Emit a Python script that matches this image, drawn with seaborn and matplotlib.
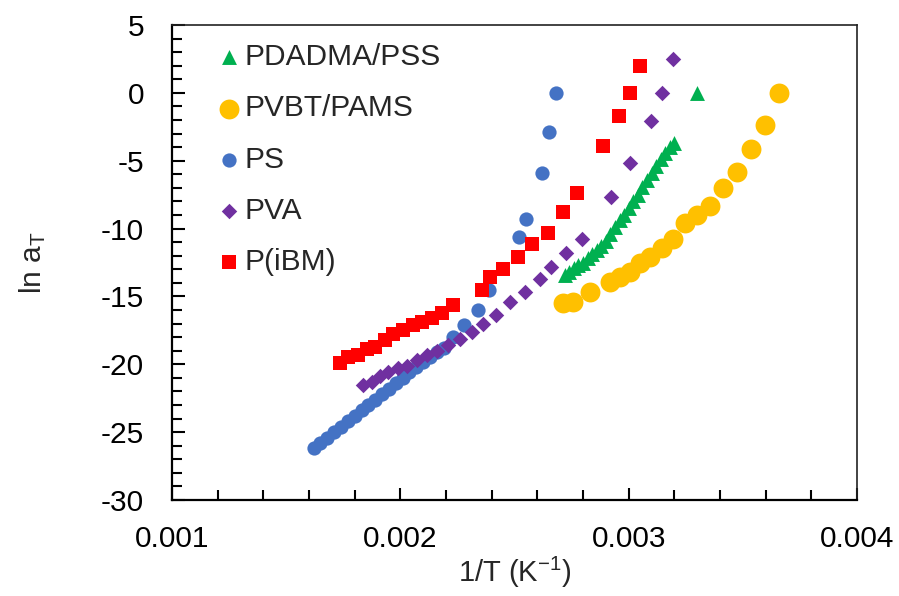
import numpy as np
import pandas as pd
import seaborn as sns
import matplotlib.pyplot as plt
from matplotlib.ticker import MultipleLocator

sns.set_style('ticks')
plt.rcParams['font.family'] = ['Liberation Sans', 'DejaVu Sans']
plt.rcParams['mathtext.default'] = 'regular'
plt.rcParams['axes.unicode_minus'] = False

# ## data: 1/T (K^-1) and ln aT
pdadma_x = [0.00272, 0.00274, 0.00276, 0.00278, 0.00280, 0.00282, 0.00284, 0.00286,
            0.00288, 0.00290, 0.00292, 0.00294, 0.00296, 0.00298, 0.00300, 0.00302,
            0.00304, 0.00306, 0.00308, 0.00310, 0.00312, 0.00314, 0.00316, 0.00318,
            0.00320, 0.00330]
pdadma_y = [-13.4, -13.2, -12.9, -12.7, -12.5, -12.2, -11.9, -11.6,
            -11.3, -10.9, -10.4, -9.9, -9.4, -9.0, -8.5, -8.0,
            -7.5, -6.9, -6.4, -5.9, -5.4, -4.9, -4.4, -4.0,
            -3.7, 0.0]

pvbt_x = [0.002713, 0.002756, 0.002831, 0.002919, 0.002962, 0.003006, 0.003050, 0.003094,
          0.003146, 0.003194, 0.003247, 0.003300, 0.003357, 0.003413, 0.003475, 0.003536,
          0.003597, 0.003659]
pvbt_y = [-15.5, -15.4, -14.7, -13.9, -13.6, -13.2, -12.5, -12.1,
          -11.4, -10.8, -9.6, -9.0, -8.3, -7.0, -5.8, -4.1,
          -2.4, 0.0]

ps_x = [0.00162, 0.00165, 0.00168, 0.00171, 0.00174, 0.00177, 0.00180, 0.00183,
        0.00186, 0.00189, 0.00192, 0.00195, 0.00198, 0.00201, 0.00204, 0.00207,
        0.00210, 0.00213, 0.00216, 0.00219, 0.00223, 0.00228, 0.00234, 0.00239,
        0.00252, 0.00255, 0.00262, 0.00265, 0.00268]
ps_y = [-26.2, -25.8, -25.4, -25.0, -24.6, -24.2, -23.8, -23.4,
        -23.0, -22.6, -22.2, -21.8, -21.4, -21.0, -20.6, -20.2,
        -19.8, -19.5, -19.1, -18.8, -18.0, -17.1, -16.0, -14.5,
        -10.6, -9.3, -5.9, -2.9, 0.0]

pva_x = [0.001837, 0.001876, 0.001911, 0.001946, 0.001990, 0.002029, 0.002073, 0.002117,
         0.002161, 0.002209, 0.002261, 0.002314, 0.002362, 0.002419, 0.002481, 0.002546,
         0.002612, 0.002660, 0.002726, 0.002796, 0.002923, 0.003006, 0.003098, 0.003146,
         0.003194]
pva_y = [-21.5, -21.3, -20.9, -20.6, -20.3, -20.1, -19.7, -19.3,
         -19.0, -18.6, -18.1, -17.6, -17.0, -16.4, -15.4, -14.7,
         -13.7, -12.8, -11.8, -10.8, -7.7, -5.2, -2.1, 0.0,
         2.5]

pibm_x = [0.001736, 0.001771, 0.001815, 0.001854, 0.001889, 0.001933, 0.001968, 0.002012,
          0.002056, 0.002095, 0.002139, 0.002183, 0.002231, 0.002358, 0.002393, 0.002450,
          0.002516, 0.002577, 0.002647, 0.002713, 0.002774, 0.002888, 0.002958, 0.003006,
          0.003050]
pibm_y = [-19.9, -19.5, -19.3, -18.9, -18.7, -18.2, -17.8, -17.5,
          -17.1, -16.9, -16.6, -16.2, -15.6, -14.5, -13.6, -13.0,
          -12.1, -11.1, -10.3, -8.8, -7.4, -3.9, -1.7, 0.0,
          2.0]

series = [
    ('PDADMA/PSS', pdadma_x, pdadma_y, '^', '#00B050', 115),
    ('PVBT/PAMS', pvbt_x, pvbt_y, 'o', '#FFC000', 205),
    ('PS', ps_x, ps_y, 'o', '#4472C4', 105),
    ('PVA', pva_x, pva_y, 'D', '#7030A0', 62),
    ('P(iBM)', pibm_x, pibm_y, 's', '#FF0000', 105),
]

# ## plot
fig, ax = plt.subplots(figsize=(8.99, 5.96), dpi=100)
fig.subplots_adjust(left=0.1913, right=0.9533, bottom=0.1611, top=0.958)

for name, xs, ys, mk, col, size in series:
    d = pd.DataFrame({'x': xs, 'y': ys})
    sns.scatterplot(data=d, x='x', y='y', marker=mk, color=col, s=size,
                    linewidth=0, label=name, ax=ax)

ax.set_xlim(0.001, 0.004)
ax.set_ylim(-30, 5)
ax.xaxis.set_major_locator(MultipleLocator(0.001))
ax.xaxis.set_minor_locator(MultipleLocator(0.0002))
ax.yaxis.set_major_locator(MultipleLocator(5))
ax.yaxis.set_minor_locator(MultipleLocator(1))
ax.xaxis.set_major_formatter(plt.FormatStrFormatter('%.3f'))

ax.tick_params(which='both', direction='in', width=1.5, colors='black',
               labelsize=21.5, top=False, right=False)
ax.tick_params(which='major', length=9)
ax.tick_params(which='minor', length=7)
ax.tick_params(axis='x', which='major', pad=18)
ax.tick_params(axis='y', which='major', pad=20)

for side in ['left', 'bottom']:
    ax.spines[side].set_linewidth(1.6)
    ax.spines[side].set_color('black')
for side in ['top', 'right']:
    ax.spines[side].set_linewidth(1.2)
    ax.spines[side].set_color('#222222')

ax.set_xlabel('1/T (K$^{-1}$)', fontsize=21, labelpad=1)
ax.set_ylabel('ln a$_T$', fontsize=21.5, labelpad=38)

ax.legend(loc='upper left', bbox_to_anchor=(0.066, 0.962), frameon=False,
          borderpad=0, borderaxespad=0, handlelength=0.8, handletextpad=0.12,
          labelspacing=0.78, fontsize=21.5)

plt.savefig('out.png', dpi=100)
